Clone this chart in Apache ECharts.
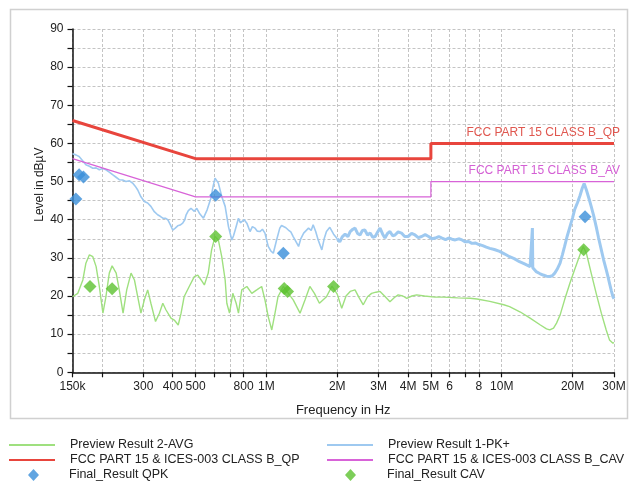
<!DOCTYPE html>
<html><head><meta charset="utf-8">
<script src="https://cdn.jsdelivr.net/npm/echarts@6/dist/echarts.min.js"></script>
<style>html,body{margin:0;padding:0;background:#fff}#c{width:630px;height:487px}</style>
</head><body><div id="c"></div>
<script>
// ---- data (frequency in MHz, level in dBµV) ----
var tickFreqs = [0.15,0.2,0.3,0.4,0.5,0.6,0.7,0.8,1,2,3,4,5,6,7,8,10,20,30];
var labelFreqs = [0.15,0.3,0.4,0.5,0.8,1,2,3,4,5,6,8,10,20,30];
var labelTexts = ["150k","300","400","500","800","1M","2M","3M","4M","5M","6","8","10M","20M","30M"];

var pkFreq = [0.150,0.155,0.160,0.165,0.171,0.177,0.183,0.189,0.195,0.201,0.208,0.215,0.222,0.229,0.237,0.245,0.253,0.262,0.270,0.277,0.284,0.293,0.303,0.313,0.323,0.334,0.345,0.354,0.363,0.372,0.381,0.390,0.400,0.410,0.420,0.430,0.441,0.450,0.456,0.466,0.478,0.494,0.506,0.519,0.540,0.560,0.580,0.595,0.605,0.615,0.625,0.646,0.668,0.690,0.713,0.725,0.737,0.761,0.775,0.786,0.805,0.826,0.852,0.872,0.894,0.915,0.939,0.962,0.986,1.018,1.045,1.07,1.105,1.14,1.16,1.18,1.21,1.24,1.27,1.30,1.37,1.40,1.44,1.51,1.55,1.58,1.62,1.66,1.72,1.76,1.80,1.86,1.93,2.0,2.05,2.1,2.16,2.22,2.27,2.33,2.38,2.44,2.5,2.56,2.62,2.69,2.76,2.83,2.9,2.97,3.04,3.12,3.19,3.27,3.35,3.44,3.52,3.63,3.75,3.87,4.0,4.14,4.28,4.42,4.57,4.73,4.89,5.05,5.22,5.4,5.58,5.77,5.95,6.15,6.35,6.56,6.78,7.0,7.23,7.47,7.72,8.0,8.3,8.6,8.9,9.3,9.8,10.3,10.8,11.3,11.9,12.5,13.2,13.45,13.5,13.55,14.0,14.5,15.0,15.5,16.0,16.4,16.8,17.2,17.7,18.1,18.5,19.0,19.5,20.0,20.4,21.0,21.5,22.0,22.4,22.9,23.5,24.0,24.6,25.2,25.8,26.5,27.1,27.8,28.3,28.7,29.2,29.7,30.0];
var pkLevel = [57.3,57.0,56.6,55.6,54.4,54.0,53.5,53.6,53.1,53.4,53.1,52.5,51.8,51.2,50.5,50.4,50.0,50.2,49.6,48.8,47.8,46.0,44.8,44.4,43.5,42.1,41.3,40.9,40.4,40.4,40.0,38.8,37.3,37.8,38.4,38.6,39.1,40.0,41.3,42.4,43.0,42.2,43.0,41.7,40.4,42.6,45.5,49.0,50.9,50.6,49.6,46.1,43.5,38.2,34.7,35.8,37.3,40.4,39.2,39.5,40.0,39.1,36.9,38.2,37.8,37.0,36.9,37.5,36.5,33.0,31.8,31.2,34.7,37.8,38.5,38.7,37.9,37.3,36.8,35.6,33.0,35.0,36.5,37.8,37.2,38.7,36.9,34.7,32.1,35.0,36.9,38.0,36.2,35.0,34.2,35.5,36.2,35.6,36.9,37.5,37.8,36.4,36.0,37.2,37.3,36.0,36.5,35.4,35.6,36.8,37.8,36.2,35.2,36.4,36.9,35.8,36.0,36.8,36.5,35.6,35.6,36.4,36.0,35.3,35.6,36.1,35.6,35.0,35.2,35.6,35.2,34.8,35.2,34.9,34.7,35.0,34.7,34.2,34.3,33.8,33.9,33.5,33.2,32.8,32.5,32.2,31.7,31.0,30.3,29.8,29.0,28.4,27.7,27.5,37.8,27.4,26.4,25.9,25.5,25.2,25.1,25.3,26.0,27.0,28.6,30.8,33.0,35.8,38.2,40.5,42.6,44.5,46.3,48.3,49.5,47.8,45.5,43.5,41.0,38.2,35.2,32.1,29.5,26.9,25.0,23.4,21.5,19.8,19.3];

var avgFreq = [0.150,0.158,0.166,0.171,0.177,0.183,0.189,0.195,0.202,0.208,0.215,0.221,0.230,0.237,0.246,0.255,0.266,0.275,0.284,0.293,0.303,0.313,0.323,0.338,0.351,0.363,0.374,0.393,0.406,0.422,0.434,0.447,0.470,0.494,0.511,0.528,0.545,0.566,0.585,0.605,0.625,0.646,0.668,0.679,0.697,0.720,0.744,0.761,0.786,0.826,0.867,0.910,0.955,0.986,1.018,1.054,1.088,1.12,1.18,1.24,1.30,1.39,1.46,1.53,1.60,1.68,1.80,1.90,2.0,2.09,2.18,2.27,2.38,2.48,2.58,2.69,2.80,2.92,3.04,3.2,3.35,3.5,3.63,3.8,3.95,4.15,4.35,4.7,5.2,5.66,6.5,7.34,7.85,8.9,10.2,10.8,12.0,13.2,14.6,15.5,16.0,16.6,17.1,17.7,18.5,19.5,20.4,21.5,22.2,22.9,24.0,25.2,26.5,27.8,28.7,29.7,30.0];
var avgLevel = [19.8,20.7,24.2,28.6,30.8,30.3,27.7,22.5,15.5,19.8,26.0,27.9,26.0,21.6,15.5,21.6,26.0,24.2,19.8,15.5,19.0,21.6,18.1,13.3,15.5,18.1,16.4,14.2,13.7,12.4,15.5,19.8,22.5,25.1,25.5,24.2,22.9,26.0,32.1,35.6,34.7,30.3,24.2,18.1,15.5,20.7,18.1,15.5,21.6,22.5,20.7,21.6,22.5,19.0,14.6,11.1,15.5,19.8,22.5,20.7,19.0,15.5,19.0,22.5,20.7,18.1,19.8,22.6,20.5,16.8,20.0,21.2,21.6,19.5,17.7,19.8,20.7,21.0,21.2,19.8,18.5,19.6,20.3,20.0,19.4,20.0,20.3,20.0,19.7,19.7,19.5,19.4,19.2,18.6,17.7,17.2,15.8,14.2,12.4,11.4,11.1,11.6,12.9,15.0,19.0,23.4,26.9,30.8,33.0,31.2,26.0,20.7,15.5,11.1,8.5,7.6,7.8];

var qpLimitFreq = [0.15,0.5,5,5,30];
var qpLimitLevel = [66,56,56,60,60];
var avLimitFreq = [0.15,0.5,5,5,30];
var avLimitLevel = [56,46,46,50,50];

var qpkFreq = [0.155,0.160,0.167,0.609,1.18,22.6];
var qpkLevel = [45.4,51.8,51.2,46.4,31.2,40.8];
var cavFreq = [0.178,0.221,0.609,1.19,1.23,1.93,22.3];
var cavLevel = [22.5,21.9,35.6,22.0,21.2,22.5,32.1];

var yTicks = [0,10,20,30,40,50,60,70,80,90];

// ---- build ----
function lx(mhz){ return Math.log10(mhz*1e6); }
function pairs(f, v){ return f.map(function(x,i){ return [lx(x), v[i]]; }); }
var XMIN = lx(0.15), XMAX = lx(30);
var tickVals = tickFreqs.map(lx);
var labelVals = labelFreqs.map(lx);
var pkAll = pairs(pkFreq, pkLevel);
var SPLIT = lx(2.0);
var pkLow = pkAll.filter(function(p){ return p[0] <= SPLIT + 1e-9; });
var pkHigh = pkAll.filter(function(p){ return p[0] >= SPLIT - 1e-9; });

var FONT = "'Liberation Sans', Arial, sans-serif";
function legTextPad(p){ return { fontSize:12.5, color:'#222', fontFamily:FONT, lineHeight:15, padding:[0,0,0,p] }; }
var chart = echarts.init(document.getElementById('c'));
chart.setOption({
  animation: false,
  textStyle: { fontFamily: FONT },
  graphic: [{ type:'rect', silent:true, z:-10,
    shape:{ x:10.5, y:9.5, width:617, height:409 },
    style:{ fill:'none', stroke:'#d0d0d0', lineWidth:1.5 } }],
  grid: { left: 72.5, right: 16, top: 29, bottom: 114.7, containLabel:false },
  xAxis: {
    type:'value', min: XMIN, max: XMAX,
    name:'Frequency in Hz', nameLocation:'middle', nameGap:32,
    nameTextStyle:{ fontSize:13, color:'#222', fontFamily:FONT },
    axisLine:{ lineStyle:{ color:'#111', width:1.5 } },
    axisTick:{ customValues: tickVals, length:5, lineStyle:{ color:'#111', width:1.2 } },
    axisLabel:{ customValues: labelVals, color:'#222', fontSize:12, margin:8, fontFamily:FONT,
      formatter:function(v){ var best=0, d=1e9; for (var i=0;i<labelVals.length;i++){ var dd=Math.abs(labelVals[i]-v); if(dd<d){d=dd;best=i;} } return labelTexts[best]; } },
    splitLine:{ show:true, lineStyle:{ type:[3,2], color:'#c4c4c4', width:1 } }
  },
  yAxis: {
    type:'value', min:0, max:90, interval:5,
    name:'Level in dBµV', nameLocation:'middle', nameGap:27, nameRotate:90, nameMoveOverlap:false,
    nameTextStyle:{ fontSize:12, color:'#222', fontFamily:FONT, padding:[0,0,0,32] },
    axisLine:{ show:true, lineStyle:{ color:'#111', width:1.5 } },
    axisTick:{ show:true, length:5, lineStyle:{ color:'#111', width:1.2 } },
    axisLabel:{ color:'#222', fontSize:12, margin:9, fontFamily:FONT,
      formatter:function(v){ return yTicks.indexOf(v) >= 0 ? String(v) : ''; } },
    splitLine:{ show:true, lineStyle:{ type:[3,2], color:'#c4c4c4', width:1 } }
  },
  legend: [
    { orient:'vertical', left:8, top:437.5, padding:0, itemWidth:46, itemHeight:15, itemGap:0,
      itemStyle:{ opacity:0 }, textStyle: legTextPad(10),
      data:['Preview Result 2-AVG','FCC PART 15 & ICES-003 CLASS B_QP'] },
    { orient:'vertical', left:28, top:467.5, padding:0, itemWidth:11, itemHeight:12, itemGap:0,
      textStyle: legTextPad(25),
      data:[{ name:'Final_Result QPK', icon:'diamond' }] },
    { orient:'vertical', left:326, top:437.5, padding:0, itemWidth:46, itemHeight:15, itemGap:0,
      itemStyle:{ opacity:0 }, textStyle: legTextPad(10),
      data:['Preview Result 1-PK+','FCC PART 15 & ICES-003 CLASS B_CAV'] },
    { orient:'vertical', left:345, top:467.5, padding:0, itemWidth:11, itemHeight:12, itemGap:0,
      textStyle: legTextPad(26),
      data:[{ name:'Final_Result CAV', icon:'diamond' }] }
  ],
  series: [
    { name:'Preview Result 2-AVG', type:'line', symbol:'none', z:2,
      lineStyle:{ color:'#9fe07f', width:1.4 }, itemStyle:{ color:'#9fe07f' },
      data: pairs(avgFreq, avgLevel) },
    { name:'Preview Result 1-PK+', type:'line', symbol:'none', z:3,
      lineStyle:{ color:'#9ec9f0', width:1.6 }, itemStyle:{ color:'#9ec9f0' },
      data: pkLow },
    { name:'Preview Result 1-PK+', type:'line', symbol:'none', z:3,
      lineStyle:{ color:'#9ec9f0', width:3 }, itemStyle:{ color:'#9ec9f0' },
      data: pkHigh },
    { name:'FCC PART 15 & ICES-003 CLASS B_CAV', type:'line', symbol:'none', z:4,
      lineStyle:{ color:'#d863d8', width:1.2 }, itemStyle:{ color:'#d863d8' },
      data: pairs(avLimitFreq, avLimitLevel),
      markPoint:{ symbol:'circle', symbolSize:0, silent:true,
        label:{ show:true, position:'left', distance:0, offset:[6,-11], color:'#d45fd4', fontSize:12, fontFamily:FONT,
          formatter:'FCC PART 15 CLASS B_AV' },
        data:[{ coord:[XMAX, 50] }] } },
    { name:'FCC PART 15 & ICES-003 CLASS B_QP', type:'line', symbol:'none', z:5,
      lineStyle:{ color:'#e8453d', width:3 }, itemStyle:{ color:'#e8453d' },
      data: pairs(qpLimitFreq, qpLimitLevel),
      markPoint:{ symbol:'circle', symbolSize:0, silent:true,
        label:{ show:true, position:'left', distance:0, offset:[6,-11], color:'#e0574f', fontSize:12, fontFamily:FONT,
          formatter:'FCC PART 15 CLASS B_QP' },
        data:[{ coord:[XMAX, 60] }] } },
    { name:'Final_Result QPK', type:'scatter', symbol:'diamond', symbolSize:13, z:6,
      itemStyle:{ color:'#3a8fd9' }, data: pairs(qpkFreq, qpkLevel) },
    { name:'Final_Result CAV', type:'scatter', symbol:'diamond', symbolSize:13, z:6,
      itemStyle:{ color:'#5cc22f' }, data: pairs(cavFreq, cavLevel) }
  ]
});
</script></body></html>
